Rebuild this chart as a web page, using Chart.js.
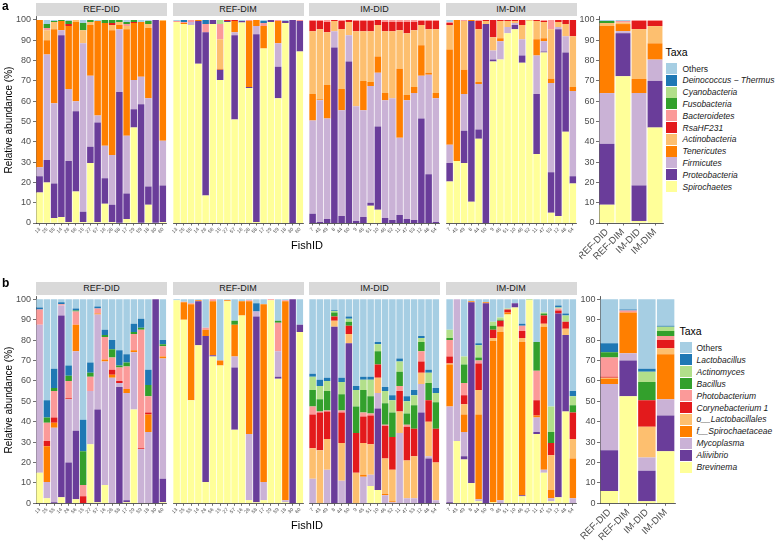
<!DOCTYPE html>
<html>
<head>
<meta charset="utf-8">
<script src="https://cdn.jsdelivr.net/npm/chart.js@4.4.1/dist/chart.umd.min.js"></script>
<style>
body { margin: 0; background: #fff; font-family: "Liberation Sans", Arial, sans-serif; }
#wrap { position: relative; width: 778px; height: 541px; overflow: hidden; }
canvas { position: absolute; }
.strip { position: absolute; background: #d9d9d9; color: #1a1a1a; font-size: 9px; text-align: center; height: 13px; line-height: 13px; }
.tag { position: absolute; font-weight: bold; font-size: 12px; color: #000; }
.ytitle { position: absolute; width: 200px; height: 12px; line-height: 12px; font-size: 10px; text-align: center; transform: rotate(-90deg); color: #000; white-space: nowrap; }
.xtitle { position: absolute; width: 80px; font-size: 11px; text-align: center; color: #000; }
.ltitle { position: absolute; font-size: 10.5px; color: #000; }
.sw { position: absolute; width: 11px; height: 11px; }
.lt { position: absolute; font-size: 8.5px; font-style: italic; color: #1a1a1a; white-space: nowrap; height: 12px; line-height: 12px; }
</style>
</head>
<body>
<div id="wrap"></div>
<script>
// fish IDs on the x axis of each facet
var fishRef = ['13','25','55','14','26','56','15','27','57','16','28','58','17','29','59','18','30','60'];
var fishIm = ['7','43','49','8','44','50','9','45','51','10','46','52','11','47','53','12','48','54'];
var groups = ['REF-DID','REF-DIM','IM-DID','IM-DIM'];

// taxa, stacked bottom -> top
var taxaA = ['Spirochaetes','Proteobacteria','Firmicutes','Tenericutes','Actinobacteria','RsaHF231','Bacteroidetes','Fusobacteria','Cyanobacteria','Deinococcus \u2212 Thermus','Others'];
var taxaB = ['Brevinema','Aliivibrio','Mycoplasma','f__Spirochaetaceae','o__Lactobacillales','Corynebacterium 1','Photobacterium','Bacillus','Actinomyces','Lactobacillus','Others'];
var palette = ['#ffff99','#6a3d9a','#cab2d6','#ff7f00','#fdbf6f','#e31a1c','#fb9a99','#33a02c','#b2df8a','#1f78b4','#a6cee3'];

// panel a (phylum), one row per fish, values in taxaA order (%)
var aRefDid = [
  [15,8,4.5,72.5,0,0,0,0,0,0,0],
  [20,11,52,7,5,0,1,2,0,0,2],
  [2.5,17,39.5,36.5,3.5,0,0,0.5,0,0,0.5],
  [3,89.5,2.5,4.5,0,0,0,0.5,0,0,0],
  [0.5,30,35.5,31,0,1,0,1.5,0,0,0.5],
  [15.5,39.5,5,39,1,0,0,0,0,0,0],
  [0.5,5,83,0,6.5,0,0,3.5,0,0,1.5],
  [29.5,8,35,25,1.5,0,0,1,0,0,0],
  [0.5,49,3.5,46.5,0,0,0,0,0,0,0.5],
  [9.5,12.5,16,60.5,0,0,0,1.5,0,0,0],
  [0.5,8.5,24.5,61.5,2.5,1,0,1.5,0,0,0],
  [0,64.5,31,2,1.5,0,0,1,0,0,0],
  [2,12.5,28.5,52.5,1.5,0,1,1,0,0,1],
  [47,9,14.5,28,0,0.5,0,1,0,0,0],
  [0,58.5,13.5,27,0,0,0,0,0,0,1],
  [9,9,43.5,34.5,2,0,0,1.5,0,0,0.5],
  [0,100,0,0,0,0,0,0,0,0,0],
  [0.5,18,22,59,0.5,0,0,0,0,0,0]
];
var aRefDim = [
  [99,0,0,0,0,0,0.5,0,0,0,0.5],
  [98,0,0,0.5,0,0,0.5,0,0,1,0],
  [97.5,0,1.5,0,0,0,1,0,0,0,0],
  [78.5,21,0,0.5,0,0,0,0,0,0,0],
  [13.5,80.5,0,0,0,0,4,0,0,2,0],
  [98,2,0,0,0,0,0,0,0,0,0],
  [70.5,5,0,0.5,14.5,0,7.5,0,2,0,0],
  [99,0.5,0,0,0,0.5,0,0,0,0,0],
  [51,41.5,1.5,5.5,0,0.5,0,0,0,0,0],
  [98.8,0.7,0,0,0,0,0,0,0,0,0.5],
  [66.5,0.5,0,32.5,0,0,0.5,0,0,0,0],
  [0.5,92.5,4,3,0,0,0,0,0,0,0],
  [86,0,0,11,0,0,1.5,0,0,1,0.5],
  [99,1,0,0,0,0,0,0,0,0,0],
  [61.5,15.5,11.5,11,0,0,0.5,0,0,0,0],
  [98.5,1,0,0,0,0,0,0,0,0,0.5],
  [0,100,0,0,0,0,0,0,0,0,0],
  [84.5,15,0,0,0,0,0.5,0,0,0,0]
];
var aImDid = [
  [0,4.5,46,13,31,5,0.5,0,0,0,0],
  [0,0.5,60,0.5,34.5,4,0.5,0,0,0,0],
  [0,2,49.5,16.5,26,5,1,0,0,0,0],
  [0,86.5,8,0,5,0.5,0,0,0,0,0],
  [0,3.5,52,10.5,29.5,4,0.5,0,0,0,0],
  [0,79.5,13,0,6.5,1,0,0,0,0,0],
  [0,1,56.5,0,37,5,0.5,0,0,0,0],
  [0,3,52.5,14.5,24.5,5,0.5,0,0,0,0],
  [8.5,1.5,57.5,2,25,5,0.5,0,0,0,0],
  [6.5,41,26.5,8,15.5,2.5,0,0,0,0,0],
  [0,2.5,58,3.5,30.5,4.5,1,0,0,0,0],
  [0,1.5,60,0,33,4.5,1,0,0,0,0],
  [0,4,38,34,19,4,1,0,0,0,0],
  [0,2,58.5,2.5,30.5,5.5,1,0,0,0,0],
  [0,1.5,62.5,3,28,4,1,0,0,0,0],
  [0,51.5,21,15,10,2,0.5,0,0,0,0],
  [0,24,49,1,21.5,4,0.5,0,0,0,0],
  [0,0.5,61,2.5,31.5,4,0.5,0,0,0,0]
];
var aImDim = [
  [20.5,9,9,47,12,1,0.5,0,0,0,1],
  [30.5,0,0,69.5,0,0,0,0,0,0,0],
  [29.5,16,18,12,24,0,0.5,0,0,0,0],
  [10.5,89,0,0.5,0,0,0,0,0,0,0],
  [41.5,4.5,22.5,1,26,4,0.5,0,0,0,0],
  [0,98,0,0,1.5,0.5,0,0,0,0,0],
  [79.5,1,4.5,0,6.5,8.5,0,0,0,0,0],
  [80.5,0,9,1.5,8.5,0.5,0,0,0,0,0],
  [93.5,0,3,0,3,0.5,0,0,0,0,0],
  [95.5,2,1,0,1,0.5,0,0,0,0,0],
  [79,3.5,8,0,7,2.5,0,0,0,0,0],
  [99.5,0,0,0,0.5,0,0,0,0,0,0],
  [34,29.5,19,8,9,0.5,0,0,0,0,0],
  [84,0.5,5,1.5,8,0.5,0.5,0,0,0,0],
  [5,20,44,2,24.5,0,4.5,0,0,0,0],
  [3.5,92,1,0,2.5,1,0,0,0,0,0],
  [45,39,8,0,6,2,0,0,0,0,0],
  [19.5,3.5,42,2,25,8,0,0,0,0,0]
];
var aMean = [
  [9,30,25,33,1.5,0,0,1,0,0,0.5],
  [72.3,21.2,1,3.5,0.7,0,0.8,0,0,0,0.5],
  [1,17.5,45.5,7,24.5,4,0.5,0,0,0,0],
  [47,23,10.5,8,8.5,2.5,0.5,0,0,0,0]
];

// panel b (genus), values in taxaB order (%)
var bRefDid = [
  [15,0,72.5,0,0,0,7.5,0,0,1,4],
  [2.5,0,8,17.5,0,2.5,9,2.5,0,8.5,49.5],
  [0,0.5,36.5,2.5,0,2.5,13,1.5,0,9.5,34],
  [3,89,5,0,0,0,0.5,0,0,1,1.5],
  [0,20,31,0,0,0.5,8.5,2.5,0,5,32.5],
  [2,33.5,39,13,0,0,6.5,0.5,0,1,4.5],
  [0,0,0,0,0,3.5,5.5,16.5,0,15.5,59],
  [29,0,26,0,0,0,7,2,0,5,31],
  [0.5,45.5,46.5,0.5,0,0,2.5,0,0,1,3.5],
  [9,0,60.5,1,0,0,11,1,0,2.5,15],
  [0,0,61.5,1.5,0,2.5,6,4,0,4.5,20],
  [0,57,2,0,0,1,6.5,1,0,7.5,25],
  [0.5,1,52.5,2,0,0,11,2,0,4,27],
  [46,0,28,1,0,0,8,1,0,4,12],
  [0,0,26.5,0,0,0.5,58,1,0,4.5,9.5],
  [0,0,35,8.5,0,1,8,5.5,0,7.5,34.5],
  [0,100,0,0,0,0,0,0,0,0,0],
  [0.5,11.5,59,1,0,0,5,1,0,2,20]
];
var bRefDim = [
  [99.5,0,0,0,0,0,0,0,0,0,0.5],
  [90,0,0,8.5,0,0,0.3,0,0,0,1.2],
  [50.5,0,0,47,0,0,0.5,0,0,0,2],
  [77.5,21.5,0,0.5,0,0,0,0,0,0,0.5],
  [10.5,71.5,0,3,0,0,1,0,0,0,14],
  [72,0.5,0,26.5,0,0,1,0,0,0,0],
  [67.5,0,0,2.5,0,0,0,0,0,0,30],
  [99,0,0,0.5,0,0,0,0,0,0,0.5],
  [36,30.5,5.5,15.5,0,0,0,2,0,0,10.5],
  [92,0,0,7,0,0,0,0,0,0,1],
  [1.5,0,32.5,65,0,0,0.5,0,0,0,0.5],
  [0.5,91,2.5,0,0,0,0,0,0,4,2],
  [1.5,0,9,87,0,0,0,0,0,0,2.5],
  [99.5,0,0,0,0,0,0.5,0,0,0,0],
  [61,1,12.5,0,0,0,14,1,0,0,10.5],
  [0.5,0,1,97.5,0,0,0.5,0,0,0,0.5],
  [0,100,0,0,0,0,0,0,0,0,0],
  [84,3.5,0,0,0,0,0,0,0,0,12.5]
];
var bImDid = [
  [0,0,12,0,15,16.5,4,8,6.5,1.5,36.5],
  [0,0,0,0,26,18.5,0.5,6,6.5,3,39.5],
  [0,0,16.5,0,15,13.5,0.5,9.5,5,1.5,38.5],
  [0,86.5,0,0,3,2,0,2,0.7,0.4,5.4],
  [0,0,11,0,18.5,15,1,8,6,2,38.5],
  [0,78.5,0,0,4.5,4,0,2,1.5,1,8.5],
  [0,0,0,0,15,19.5,0,13,8,2,42.5],
  [0,0,13,1,15.5,13,2,11,5,1.5,38],
  [8.5,0,5.5,0,15,14,1,8.5,8,1.5,38],
  [6.5,40,7.5,0,7.5,6.5,0,6.5,3.5,1,21],
  [0,0,4,0.5,17.5,16,0.5,10.5,6,2,43],
  [0,0,0.5,0.5,15.5,16,0,12,6,2.5,47],
  [0,0,34.5,0,10.5,10,2.5,7,5,1.5,29],
  [0,0,2.5,0,18.5,16.5,1,5.5,6,2.5,47.5],
  [0,0,2.5,0,20.5,13.5,0,11.5,5,2.5,44.5],
  [0,44.5,14,0,5.5,5.5,5,4.5,2,1,18],
  [0,22,1,0,17,10.5,0,8.5,5,1.5,34.5],
  [0,0,1.5,0,18.5,16.5,0,13,4.5,2.5,43.5]
];
var bImDim = [
  [0,0.5,47,20.5,0.5,3.5,8,1,4,0,15],
  [30.5,0,69.5,0,0,0,0,0,0,0,0],
  [21.5,1.5,12,8.5,5,4.5,6,9,4,0,28],
  [10,88.5,0,0.5,0,0,0,0,0,0,1],
  [1,0,1,41.5,12,13,1.5,1.5,6,1,21.5],
  [0,98,0,0.5,0,0,0,0,0,0,1.5],
  [0.5,0,0,79,1.5,4,0,2,2,0,11],
  [0,0,1.5,82.5,2.5,3,0,0.5,1,0,9],
  [92.5,0,0,1,0,1.5,0,0,0.5,0,4.5],
  [96,2,0,0,0,0,0,0,0,0,2],
  [3.5,0.5,0,75,2,3.5,2.5,0,0,1,12],
  [99.5,0,0,0,0,0,0,0,0.5,0,0],
  [34,1,7,1,0,7.5,14.5,14,0,0,21],
  [15,0,1.5,70,1.5,4,0,1,0.5,0,6.5],
  [1,0,1.5,4,17,6,0,5.5,12.5,0,52.5],
  [3,90,0,0,0,1.5,1,0,0.5,1,3],
  [45,37.5,0,0,3,3.5,0,0,3,1,7],
  [0,0,2.5,19.5,9.5,13,0,3.5,4.5,2.5,45]
];
var bMean = [
  [6,20,32.5,2.5,0.5,0.5,9.5,2.5,0,4.5,21.5],
  [52.5,17.5,3.5,20,0,0,1,0,0,0.5,5],
  [1,15,6.5,0,15,13,0,9,5,1.5,34],
  [25.5,17.5,8,22,3,4,2,2.5,2,0.5,13]
];

var wrap = document.getElementById('wrap');
var facetLeft = [36, 172.5, 309, 445.5];
var facetW = 131;
var meanX = 579;

function addDiv(cls, css, text) {
  var d = document.createElement('div');
  d.className = cls;
  d.style.cssText = css;
  if (text !== undefined) d.textContent = text;
  wrap.appendChild(d);
  return d;
}

function makeChart(box, labels, rows, taxa, opt) {
  var cv = document.createElement('canvas');
  cv.width = box.w;
  cv.height = box.h;
  cv.style.left = box.x + 'px';
  cv.style.top = box.y + 'px';
  if (opt.z) cv.style.zIndex = opt.z;
  wrap.appendChild(cv);
  // plain software canvas, Chart.js picks up the same context
  cv.getContext('2d', { willReadFrequently: true });
  var datasets = taxa.map(function(t, i) {
    return {
      label: t,
      data: rows.map(function(r) { return r[i]; }),
      backgroundColor: palette[i],
      borderWidth: 0,
      barPercentage: opt.bar,
      categoryPercentage: 1
    };
  });
  return new Chart(cv, {
    type: 'bar',
    data: { labels: labels, datasets: datasets },
    options: {
      responsive: false,
      animation: false,
      devicePixelRatio: 1,
      layout: { padding: { top: box.pt, left: opt.padL, right: opt.padR, bottom: 0 } },
      plugins: { legend: { display: false }, tooltip: { enabled: false } },
      scales: {
        x: {
          stacked: true,
          grid: { display: true, drawOnChartArea: false, offset: false, tickLength: 2.5, color: '#333', lineWidth: 0.7 },
          border: { display: true, color: '#333', width: 0.8 },
          ticks: { autoSkip: false, minRotation: 45, maxRotation: 45, padding: 1, color: '#4d4d4d',
                   font: { size: opt.xFont, family: 'Liberation Sans' } },
          afterFit: function(s) { s.height = box.xh; s.paddingLeft = 0; s.paddingRight = 0; }
        },
        y: {
          display: opt.showY,
          stacked: true,
          min: 0,
          max: 101.5,
          grid: { drawOnChartArea: false, tickLength: 3, color: '#333', lineWidth: 0.7 },
          border: { display: true, color: '#333', width: 0.8 },
          ticks: { stepSize: 10, includeBounds: false, padding: opt.tickPad, color: '#4d4d4d',
                   font: { size: 9, family: 'Liberation Sans' } },
          afterFit: function(s) { s.width = opt.showY ? opt.yw : 0; }
        }
      }
    }
  });
}

function drawPanel(p) {
  var facets = [p.refDid, p.refDim, p.imDid, p.imDim];
  var ids = [fishRef, fishRef, fishIm, fishIm];
  facets.forEach(function(rows, k) {
    var first = k === 0;
    var x0 = first ? 0 : facetLeft[k] - 3;
    var w = first ? facetLeft[0] + facetW + 2.5 : facetW + 5.5;
    makeChart({ x: x0, y: p.top, w: w, h: p.h, pt: p.plotTop - p.top, xh: p.top + p.h - p.plotBottom },
      ids[k], rows, p.taxa,
      { bar: 0.9, xFont: 5, showY: first, yw: 36, padL: first ? 0 : 3, padR: 2.5, tickPad: 2 });
    addDiv('strip', 'left:' + facetLeft[k] + 'px;top:' + p.stripTop + 'px;width:' + facetW + 'px;', groups[k]);
  });

  addDiv('tag', 'left:2px;top:' + (p.tagTop) + 'px;', p.tag);
  addDiv('ytitle', 'left:' + (9 - 100) + 'px;top:' + ((p.plotTop + p.plotBottom) / 2 - 6) + 'px;', 'Relative abundance (%)');
  addDiv('xtitle', 'left:' + (307 - 40) + 'px;top:' + p.fishTop + 'px;', 'FishID');

  // legend, top entry = last stacked taxon
  addDiv('ltitle', 'left:' + p.legX + 'px;top:' + (p.legTitle - 6) + 'px;', 'Taxa');
  for (var j = 0; j < p.taxa.length; j++) {
    var i = p.taxa.length - 1 - j;
    var cy = p.legY + j * p.legStep;
    addDiv('sw', 'left:' + p.legX + 'px;top:' + (cy - 5.5) + 'px;width:' + p.swW + 'px;background:' + palette[i] + ';');
    var t = addDiv('lt', 'left:' + p.legText + 'px;top:' + (cy - 6) + 'px;', p.taxa[i]);
    if (p.taxa[i] === 'Others') t.style.fontStyle = 'normal';
  }
}

function drawMeans(p) {
  makeChart({ x: meanX, y: p.top, w: p.meanW, h: p.meanH, pt: p.plotTop - p.top, xh: p.top + p.meanH - p.plotBottom },
    groups, p.mean, p.taxa,
    { bar: 0.93, xFont: 9.5, showY: true, yw: p.meanLeft - meanX, padL: 0, padR: 10, tickPad: 1.5, z: 3 });
}

var panelA = {
  tag: 'a', tagTop: -1, top: 0, h: 240, plotTop: 16.95, plotBottom: 223, stripTop: 2.5, fishTop: 239,
  taxa: taxaA, refDid: aRefDid, refDim: aRefDim, imDid: aImDid, imDim: aImDim, mean: aMean,
  meanLeft: 599, meanW: 94, meanH: 262,
  legX: 665.5, legText: 682.5, legTitle: 52, legY: 68.5, legStep: 11.8, swW: 11.5
};
var panelB = {
  tag: 'b', tagTop: 276, top: 270, h: 250, plotTop: 296.2, plotBottom: 503.3, stripTop: 282, fishTop: 519,
  taxa: taxaB, refDid: bRefDid, refDim: bRefDim, imDid: bImDid, imDim: bImDim, mean: bMean,
  meanLeft: 600, meanW: 106, meanH: 271,
  legX: 679.5, legText: 696.5, legTitle: 331, legY: 347.7, legStep: 11.96, swW: 12
};
drawPanel(panelA);
drawPanel(panelB);
drawMeans(panelA);
drawMeans(panelB);
</script>
</body>
</html>
